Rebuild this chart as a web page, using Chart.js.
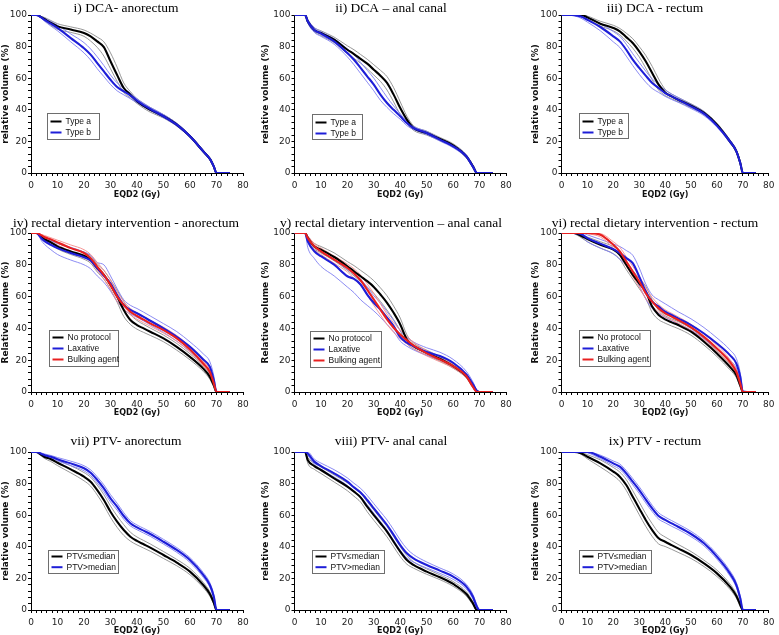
<!DOCTYPE html>
<html><head><meta charset="utf-8">
<script src="https://cdn.jsdelivr.net/npm/chart.js@4.4.1/dist/chart.umd.min.js"></script>
<style>
html,body{margin:0;padding:0;background:#fff;}
#wrap{position:relative;width:779px;height:635px;overflow:hidden;background:#fff;}
canvas{position:absolute;}
</style></head><body><div id="wrap"></div>
<script>
// Dose grid (Gy) shared by every curve
const DOSE = [0,2,4,5,7.5, 10,15,20,22.5,25, 27.5,30,32.5,35,37.5, 40,42.5,45,50,55, 60,65,67.5,69,70, 75];

// i) DCA - anorectum
const I_A    = [100,100,98.5,97.5,95, 92.8,90.8,88.6,86.5,83.3, 79.7,70.7,62,53.8,49.6, 45.4,42.5,40,35.9,30.6, 23.2,13.7,8.9,4,0, 0];
const I_A_HI = [100,100,99,98.5,96.5, 94.5,92.5,90.5,88.5,86, 83,76,67,57,51.5, 47,44,41.5,37,31.5, 24,14.5,9.5,4.5,0, 0];
const I_A_LO = [100,100,98,96.5,93.5, 91,89,86.5,83.5,79.5, 74,66,58,51,47.5, 44,41,38.5,34.8,29.7, 22.4,13,8.3,3.5,0, 0];
const I_B    = [100,100,98.3,97,94.5, 91.8,85.4,79,74.9,69.6, 64.3,59,54.4,51.7,49, 45.8,43,40.5,35.9,30.6, 23.2,13.7,8.9,4,0, 0];
const I_B_HI = [100,100,99,98,96, 93.5,88,82.5,78.5,73.5, 68,62,57,53.5,50.5, 47,44.2,41.5,37,31.5, 24,14.5,9.5,4.5,0, 0];
const I_B_LO = [100,100,97.8,96.2,93, 90,83,76,71.5,66, 61,56,52,49.5,47, 44.5,41.8,39.5,35,29.7, 22.4,13,8.3,3.5,0, 0];

// ii) DCA - anal canal
const II_A    = [100,100,100,96,90.5, 88.6,84.4,78,75.3,72.2, 69.2,65.4,61.6,57,49.6, 41.1,33.8,28.5,25.3,21.5, 17.5,10.5,4.2,0,0, 0];
const II_A_HI = [100,100,100,97,92, 90,86,80.5,78,75, 72,68.5,65,61,54, 45,36,30,26.5,22.5, 18.5,11.5,5,0.5,0, 0];
const II_A_LO = [100,100,100,95,89.5, 87,82.5,75.5,72.5,69.5, 66,62,58,52.5,45, 37,31.5,27,24,20.5, 16.5,9.5,3.5,0,0, 0];
const II_B    = [100,100,100,96,90.5, 88.2,83.3,75.9,71.7,66.5, 61.2,55.9,49.6,44.3,40, 35.9,31.6,28.5,25.3,21.1, 16.9,10.5,4,0,0, 0];
const II_B_HI = [100,100,100,97,92, 89.5,85,78.5,75,70, 65,60,54,48,42.5, 37.5,33,29.5,26.3,22, 17.8,11.5,5,0.5,0, 0];
const II_B_LO = [100,100,100,95,89, 86.5,81.5,73.5,68.5,63, 57.5,52,46,41.5,37.5, 34,30,27.5,24.3,20.2, 16,9.5,3.2,0,0, 0];

// iii) DCA - rectum
const III_A    = [100,100,100,100,100, 98.5,94.5,91.8,89.7,86, 82.3,77,70.7,63.3,55.9, 51,48.5,46.4,42.6,38, 30.6,20,13.7,6.3,0, 0];
const III_A_HI = [100,100,100,100,100, 99.3,96,93.5,91.5,88.5, 85,80,74.5,67.5,59.5, 53,50,47.8,43.8,39, 31.5,21,14.5,7,0, 0];
const III_A_LO = [100,100,100,100,99.5, 97.5,93,90,87.5,83.5, 79,73.5,66.5,59,52.5, 49,47,45,41.4,37, 29.7,19,13,5.5,0, 0];
const III_B    = [100,100,100,99.8,99, 97,92.4,86.5,83.3,78, 71.7,66.5,61.6,57,53.8, 50.6,48.5,46.4,42.2,37.6, 30,20,13.7,6.3,0, 0];
const III_B_HI = [100,100,100,100,99.5, 98.5,94.5,89.5,86.5,81.5, 75.5,70,64.5,59.5,56, 52.5,50,47.8,43.5,38.8, 31,21,14.5,7,0, 0];
const III_B_LO = [100,100,100,99.5,98, 95.5,90,83,79.5,74, 68,62.5,57.5,53.5,51, 48.5,46.5,44.8,40.8,36.3, 29,19,13,5.5,0, 0];

// iv) rectal dietary intervention - anorectum
const IV_N    = [100,100,97.5,96.2,94.1, 91.6,88.4,85.7,83.2,77.9, 73.7,67.4,60,51.6,45.3, 42.1,40,37.9,33.7,28.4, 22.1,14.7,9.5,4.2,0, 0];
const IV_N_HI = [100,100,98.5,97.5,95.5, 93.5,90.5,88,85.5,80.5, 76.5,70.5,64,57,49, 45,42.5,40.2,35.8,30.5, 24,16.5,11,5.5,0, 0];
const IV_N_LO = [100,100,97,95.2,92.8, 90,86.5,83.5,81,75.5, 71,64.5,56.5,47.5,42.5, 39.5,37.5,35.6,31.6,26.3, 20.2,13,8,3,0, 0];
const IV_L    = [100,100,96.5,95,92.5, 90.5,87.4,84.8,82.7,77.9, 73,68.4,61,54.7,51.6, 49.5,47.2,44.8,40,34.7, 28.4,20.4,15.8,7.4,0, 0];
const IV_L_HI = [100,100,98,97,95, 93.5,91,88,86,81.5, 80,73,65,58,54.5, 52.5,50.2,47.8,43,38, 31.5,24,19,10,0.5, 0];
const IV_L_LO = [100,100,95,93,89.5, 86.5,83,80,77.5,73, 69,63.5,57,52,49, 47,44.7,42.3,37.5,32, 25.5,17.5,13,5,0, 0];
const IV_B    = [100,100,98.5,97.5,96, 94.1,90.5,87.4,84.2,78.9, 73.7,67.4,60,54.7,50.5, 47.8,45.5,43.2,38.9,33.7, 26.7,17.9,12.6,5.3,0, 0];
const IV_B_HI = [100,100,99,98.5,97, 95.5,92.5,89.5,86.5,81.5, 76.5,70.5,63,57,52.5, 49.8,47.5,45,40.7,35.5, 28.5,19.5,14,6.5,0, 0];
const IV_B_LO = [100,100,98,96.5,94.5, 92.5,88.5,85.2,81.8,76.5, 71,64.5,57,52.5,48.5, 45.8,43.5,41.4,37,31.9, 25,16.3,11.2,4,0, 0];

// v) rectal dietary intervention - anal canal
const V_N    = [100,100,100,96.9,91.6, 89.5,84.9,79.1,75.9,72.8, 69.7,66.1,61.3,56.1,49.8, 42.5,33.1,28.9,24.7,20.9, 16.3,10,3.8,0.6,0, 0];
const V_N_HI = [100,100,100,98,93.5, 91.5,87.5,82,79.5,76.5, 73.5,70,65.5,60.5,54, 46.5,36,30.8,26.3,22.4, 17.6,11.2,4.8,1,0, 0];
const V_N_LO = [100,100,100,95.5,90, 87.5,82.5,76.5,73,69.5, 66,62,57,51.5,45.5, 38.5,30.5,27.2,23.2,19.5, 15,8.8,2.8,0,0, 0];
const V_L    = [100,100,100,94.8,88.5, 85.4,80.1,72.8,71.1,67.6, 61.3,56.1,51.9,46.7,41.4, 34.5,31,28.9,25.1,22.6, 18.4,11.1,4.8,0.6,0, 0];
const V_L_HI = [100,100,100,96.5,91, 88.5,83.5,77,74.5,71, 66,60.5,56,50.5,45, 38.5,34.5,31.5,27.8,25, 20.5,13,6.3,1.2,0, 0];
const V_L_LO = [100,100,100,91,84, 79,73,66,62.5,58, 54.5,51,47,42.5,38, 32,28.8,26.5,23,20.3, 16.3,9.3,3.5,0,0, 0];
const V_B    = [100,100,100,96.9,91.6, 88.5,83.3,78,74.5,70.3, 64.4,58.2,51.9,45.6,40.4, 36.2,32.6,29.3,24.3,20.5, 16.3,10,3.3,0,0, 0];
const V_B_HI = [100,100,100,98,93.5, 90.5,85.5,80.5,77.5,73.5, 68,62,55.5,49,43.5, 39,35,31.3,26,22, 17.6,11.2,4.3,0.3,0, 0];
const V_B_LO = [100,100,100,95.5,89.5, 86.5,81,75.5,71.5,67, 61,54.5,48.5,42.5,37.5, 33.5,30.3,27.3,22.7,19, 15,8.8,2.5,0,0, 0];

// vi) rectal dietary intervention - rectum
const VI_N    = [100,100,100,100,98.3, 96.2,92.6,89.5,86.3,80, 73.7,68.4,63.2,53.7,48.4, 45.7,43.8,42.1,37.9,31.6, 24.2,15.8,10.5,4.2,0, 0];
const VI_N_HI = [100,100,100,100,99.3, 97.5,94.5,91.5,88.5,82.5, 76.5,71.5,66.5,58,51.5, 48,46,44.3,40,33.6, 26,17.5,12,5.5,0, 0];
const VI_N_LO = [100,100,100,99.5,97.2, 94.5,90.5,87,83.5,77, 71,65,59,50,45.5, 43.3,41.5,39.9,35.7,29.5, 22.3,14,9,3,0, 0];
const VI_L    = [100,100,100,100,99.4, 96.8,93.3,89.9,87.4,84.2, 81,72.6,63.2,56.8,53.7, 50.5,48.4,46.3,42.1,36.8, 30.5,23.2,17.9,9.5,0, 0];
const VI_L_HI = [100,100,100,100,100, 98.8,96,93,91.5,89, 86,78,68,61,58, 55.5,53,50.5,46,40.5, 34,26.5,21,12,1, 0];
const VI_L_LO = [100,100,100,99.5,98, 94.5,90.5,86.8,83.5,79.5, 75,67,58.5,52.5,49.5, 47,45,43,39,33.5, 27,20,15,7,0, 0];
const VI_B    = [100,100,100,100,100, 100,98.9,92.6,88.4,82.1, 75.8,69.5,62.1,56.8,52.6, 49.5,47.4,45.3,40.6,34.7, 27.4,18.9,12.6,5.3,0, 0];
const VI_B_HI = [100,100,100,100,100, 100,99.6,94.5,91,85, 79,73,65.5,59.5,55, 51.7,49.5,47.3,42.5,36.6, 29.3,20.5,14,6.5,0, 0];
const VI_B_LO = [100,100,100,100,100, 99.5,97.5,90.5,85.8,79.2, 72.6,66,58.7,54.1,50.2, 47.3,45.3,43.3,38.7,32.8, 25.5,17.3,11.2,4,0, 0];

// vii) PTV - anorectum
const VII_S    = [100,100,98,97,95.4, 93.2,89,84.4,81.2,75.9, 69.6,62.2,55.9,50.6,46.4, 43.7,41.6,39.5,34.8,30, 24.3,15.8,10.1,4.6,0, 0];
const VII_S_HI = [100,100,98.8,98,96.8, 95,91.3,87,84,79, 73,65.8,59.5,54,49.2, 46.2,44,41.8,37,32, 26.3,17.5,11.5,5.5,0, 0];
const VII_S_LO = [100,100,97.4,96,94, 91.4,86.8,81.8,78.4,72.8, 66.2,58.6,52.3,47.2,43.6, 41.2,39.2,37.2,32.6,28, 22.3,14.1,8.7,3.7,0, 0];
const VII_G    = [100,100,98.8,98.1,97, 95.4,92.8,89.7,86.9,82.3, 77,70.7,65.4,59.5,54.9, 52.3,50.2,48.1,43.2,38, 31.6,22.2,15.8,8.4,0, 0];
const VII_G_HI = [100,100,99.3,98.8,97.8, 96.5,94.2,91.3,88.7,84.3, 79.2,73,67.6,61.6,56.6, 53.8,51.7,49.6,44.7,39.5, 33.1,23.7,17.2,9.5,0.5, 0];
const VII_G_LO = [100,100,98.3,97.4,96.1, 94.3,91.4,88.1,85.1,80.3, 74.8,68.4,63.2,57.4,53.2, 50.8,48.7,46.6,41.7,36.5, 30.1,20.7,14.4,7.3,0, 0];

// viii) PTV - anal canal
const VIII_S    = [100,100,100,94.9,91.1, 88.6,83.3,78.1,74.9,71.3, 65.4,60.1,54.9,49.6,43.2, 36.9,31.6,28.5,24.3,20.7, 16.5,10.1,4.2,0,0, 0];
const VIII_S_HI = [100,100,100,96.5,93, 90.5,85.5,80.5,77.5,74, 68.5,63.3,58,52.8,46.5, 40,34.5,30.5,26,22.2, 18,11.5,5.2,0.5,0, 0];
const VIII_S_LO = [100,100,100,93,89, 86.4,81,75.5,72,68.3, 62.2,56.8,51.6,46.3,40, 33.8,29,26.5,22.6,19.2, 15,8.8,3.2,0,0, 0];
const VIII_G    = [100,100,100,99,93.9, 91.1,86.5,81.2,77.6,74.3, 69.6,64.3,59.1,53.8,47.5, 41.1,35.9,32.7,28.5,24.9, 21.1,14.8,8.4,2.1,0, 0];
const VIII_G_HI = [100,100,100,100,95.5, 93,88.8,83.6,80.2,77, 72.5,67.3,62.2,57,50.8, 44.3,38.8,35.1,30.4,26.6, 22.8,16.3,9.8,3.2,0, 0];
const VIII_G_LO = [100,100,100,98,92.3, 89.2,84.2,78.8,75,71.6, 66.7,61.3,56,50.6,44.2, 37.9,33,30.3,26.6,23.2, 19.4,13.3,7,1.2,0, 0];

// ix) PTV - rectum
const IX_S    = [100,100,100,100,99.2, 97,92.8,87.6,84.4,79.1, 71.7,64.3,57,50.6,45.4, 43.2,41.1,39,34.8,29.5, 23.2,14.8,8.9,3.2,0, 0];
const IX_S_HI = [100,100,100,100,99.8, 98.3,95,90.2,87.3,82.5, 75.5,68.3,61,54.6,49, 46.2,43.8,41.5,37,31.5, 25.2,16.5,10.3,4.2,0, 0];
const IX_S_LO = [100,100,100,100,98.6, 95.7,90.5,85,81.5,75.7, 67.9,60.3,53,46.6,41.8, 40.2,38.4,36.5,32.6,27.5, 21.2,13.1,7.5,2.2,0, 0];
const IX_G    = [100,100,100,100,100, 100,97,92.8,90.7,86.5, 81.2,75.9,70,64.3,59.5, 57,54.8,52.7,48.1,42.2, 33.8,23.2,15.8,7.4,0, 0];
const IX_G_HI = [100,100,100,100,100, 100,98,94.3,92.4,88.3, 83.2,78,72.2,66.3,61.5, 58.8,56.6,54.4,49.8,43.8, 35.4,24.8,17.3,8.6,0.5, 0];
const IX_G_LO = [100,100,100,100,100, 99.5,95.8,91.3,89,84.7, 79.2,73.8,67.8,62.3,57.5, 55.2,53,51,46.4,40.6, 32.2,21.6,14.3,6.2,0, 0];

// Text
const TITLES = ['i) DCA- anorectum','ii) DCA \u2013 anal canal','iii) DCA - rectum',
  'iv) rectal dietary intervention - anorectum','v) rectal dietary intervention \u2013 anal canal','vi) rectal dietary intervention - rectum',
  'vii) PTV- anorectum','viii) PTV- anal canal','ix) PTV - rectum'];
const Y_TITLES = ['relative volume (%)','Relative volume (%)','relative volume (%)'];
const X_TITLE = 'EQD2 (Gy)';
const DCA_LABELS = ['Type a','Type b'];
const DIET_LABELS = ['No protocol','Laxative','Bulking agent'];
const PTV_LABELS = ['PTV\u2264median','PTV>median'];

// Styles
const BLACK = {color:'#000000', light:'#8c8c8c', order:3};
const BLUE  = {color:'#1e1ed8', light:'#7f7ff2', order:2};
const RED   = {color:'#e82020', light:'#f58c8c', order:1};

function grp(label, st, mean, hi, lo){ return {label, st, mean, hi, lo}; }
const PANELS = [
  {groups:[grp(DCA_LABELS[0],BLACK,I_A,I_A_HI,I_A_LO), grp(DCA_LABELS[1],BLUE,I_B,I_B_HI,I_B_LO)], leg:{x:15.7,y:97.7,w:51.6,h:26,first:8,gap:11}},
  {groups:[grp(DCA_LABELS[0],BLACK,II_A,II_A_HI,II_A_LO), grp(DCA_LABELS[1],BLUE,II_B,II_B_HI,II_B_LO)], leg:{x:17.2,y:99,w:50,h:25,first:8,gap:11}},
  {groups:[grp(DCA_LABELS[0],BLACK,III_A,III_A_HI,III_A_LO), grp(DCA_LABELS[1],BLUE,III_B,III_B_HI,III_B_LO)], leg:{x:17.8,y:98,w:49,h:25,first:8,gap:11}},
  {groups:[grp(DIET_LABELS[0],BLACK,IV_N,IV_N_HI,IV_N_LO), grp(DIET_LABELS[1],BLUE,IV_L,IV_L_HI,IV_L_LO), grp(DIET_LABELS[2],RED,IV_B,IV_B_HI,IV_B_LO)], leg:{x:18.3,y:97.4,w:69,h:36,first:7,gap:11}},
  {groups:[grp(DIET_LABELS[0],BLACK,V_N,V_N_HI,V_N_LO), grp(DIET_LABELS[1],BLUE,V_L,V_L_HI,V_L_LO), grp(DIET_LABELS[2],RED,V_B,V_B_HI,V_B_LO)], leg:{x:15.5,y:98,w:70.7,h:36,first:7,gap:11}},
  {groups:[grp(DIET_LABELS[0],BLACK,VI_N,VI_N_HI,VI_N_LO), grp(DIET_LABELS[1],BLUE,VI_L,VI_L_HI,VI_L_LO), grp(DIET_LABELS[2],RED,VI_B,VI_B_HI,VI_B_LO)], leg:{x:17,y:97.4,w:71,h:36,first:7,gap:11}},
  {groups:[grp(PTV_LABELS[0],BLACK,VII_S,VII_S_HI,VII_S_LO), grp(PTV_LABELS[1],BLUE,VII_G,VII_G_HI,VII_G_LO)], leg:{x:17.3,y:98,w:70,h:23,first:6,gap:10.7}},
  {groups:[grp(PTV_LABELS[0],BLACK,VIII_S,VIII_S_HI,VIII_S_LO), grp(PTV_LABELS[1],BLUE,VIII_G,VIII_G_HI,VIII_G_LO)], leg:{x:17,y:98,w:71.6,h:23,first:6,gap:10.7}},
  {groups:[grp(PTV_LABELS[0],BLACK,IX_S,IX_S_HI,IX_S_LO), grp(PTV_LABELS[1],BLUE,IX_G,IX_G_HI,IX_G_LO)], leg:{x:17.6,y:98,w:72.4,h:23,first:6,gap:10.7}}
];

// Layout of the 3x3 grid
const ROWS = [{top:0,h:201,titleH:15,titleY:8,plotBottom:173},
              {top:213,h:206,titleH:20,titleY:10.3,plotBottom:392},
              {top:432,h:205,titleH:20,titleY:9.7,plotBottom:610}];
const COLS = [{left:0,w:258,yw:31,padR:15,titleX:126},
              {left:260,w:258,yw:34.5,padR:12,titleX:131},
              {left:530,w:249,yw:31.5,padR:5,titleX:125}];

const decor = {
  id:'decor',
  afterDraw(chart, args, o){
    const ctx = chart.ctx, ca = chart.chartArea;
    ctx.save();
    ctx.fillStyle = '#000';
    ctx.font = '13.5px "Liberation Serif", "Times New Roman", serif';
    ctx.textAlign = 'center'; ctx.textBaseline = 'middle';
    ctx.fillText(o.title, o.titleX, o.titleY);
    const L = o.leg;
    const x0 = Math.round(ca.left + L.x) + 0.5, y0 = Math.round(ca.top + L.y) + 0.5;
    ctx.fillStyle = '#fff';
    ctx.fillRect(x0, y0, L.w, L.h);
    ctx.strokeStyle = '#6e6e6e'; ctx.lineWidth = 1;
    ctx.strokeRect(x0, y0, Math.round(L.w), Math.round(L.h));
    ctx.font = '8.5px "Liberation Sans", Arial, sans-serif';
    ctx.textAlign = 'left';
    o.items.forEach((it, i) => {
      const yy = y0 + L.first + i * L.gap;
      ctx.strokeStyle = it.color; ctx.lineWidth = 2;
      ctx.beginPath(); ctx.moveTo(x0 + 3, yy); ctx.lineTo(x0 + 14, yy); ctx.stroke();
      ctx.fillStyle = '#111';
      ctx.fillText(it.label, x0 + 18, yy + 0.5);
    });
    ctx.restore();
  }
};

function series(arr){ return DOSE.map((x, i) => ({x: x, y: arr[i]})); }

const wrap = document.getElementById('wrap');
const tickFont = {family:'"DejaVu Sans", Verdana, sans-serif', size:9};

PANELS.forEach((p, k) => {
  const r = ROWS[Math.floor(k / 3)], c = COLS[k % 3];
  const cv = document.createElement('canvas');
  cv.width = c.w; cv.height = r.h;
  cv.style.left = c.left + 'px'; cv.style.top = r.top + 'px';
  cv.style.width = c.w + 'px'; cv.style.height = r.h + 'px';
  wrap.appendChild(cv);
  const xh = r.h - (r.plotBottom - r.top);
  const datasets = [];
  p.groups.forEach(g => {
    const common = {pointRadius:0, pointHoverRadius:0, fill:false, cubicInterpolationMode:'monotone'};
    datasets.push(Object.assign({label:g.label, data:series(g.mean), borderColor:g.st.color, borderWidth:2.1, order:g.st.order}, common));
    datasets.push(Object.assign({label:g.label + ' upper', data:series(g.hi), borderColor:g.st.light, borderWidth:0.9, order:10 + g.st.order}, common));
    datasets.push(Object.assign({label:g.label + ' lower', data:series(g.lo), borderColor:g.st.light, borderWidth:0.9, order:10 + g.st.order}, common));
  });
  new Chart(cv, {
    type:'line',
    data:{datasets},
    plugins:[decor],
    options:{
      responsive:false, animation:false, devicePixelRatio:1, events:[],
      layout:{padding:{top:r.titleH, right:c.padR, left:0, bottom:0}},
      plugins:{
        legend:{display:false}, tooltip:{enabled:false}, title:{display:false},
        decor:{title:TITLES[k], titleX:c.titleX, titleY:r.titleY, leg:p.leg,
               items:p.groups.map(g => ({label:g.label, color:g.st.color}))}
      },
      scales:{
        x:{type:'linear', min:0, max:80,
           afterFit(s){ s.height = xh; },
           ticks:{stepSize:2, maxTicksLimit:100, autoSkip:false, maxRotation:0, minRotation:0, padding:4.5, color:'#222', font:tickFont,
                  callback:v => (v % 10 === 0 ? String(v) : '')},
           grid:{drawOnChartArea:false, drawTicks:true, tickLength:3, tickColor:'#000', tickWidth:1},
           border:{display:true, color:'#000', width:1},
           title:{display:true, text:X_TITLE, color:'#111', font:{family:'"DejaVu Sans", Verdana, sans-serif', size:8, weight:'bold'}, padding:{top:0, bottom:1}}},
        y:{type:'linear', min:0, max:100,
           afterFit(s){ s.width = c.yw; },
           ticks:{stepSize:4, maxTicksLimit:100, autoSkip:false, padding:1, color:'#222', font:tickFont,
                  callback:v => (v % 20 === 0 ? String(v) : '')},
           grid:{drawOnChartArea:false, drawTicks:true, tickLength:3, tickColor:'#000', tickWidth:1},
           border:{display:true, color:'#000', width:1},
           title:{display:true, text:Y_TITLES[Math.floor(k / 3)], color:'#111', font:{family:'"DejaVu Sans", Verdana, sans-serif', size:9, weight:'bold'}, padding:{top:0, bottom:0}}}
      }
    }
  });
});
</script>
</body></html>
